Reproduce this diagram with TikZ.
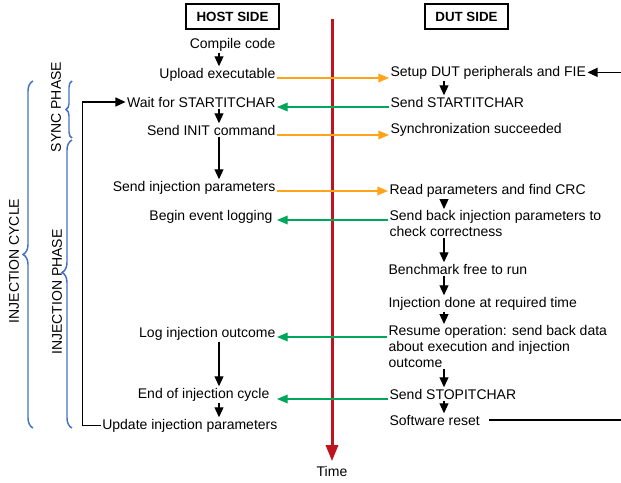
\documentclass[tikz,border=0pt]{standalone}
\usepackage{fontspec}
\setmainfont{Liberation Sans}
\usepackage{tikz}
\usetikzlibrary{arrows.meta,calc,decorations.pathreplacing}
\definecolor{txorange}{RGB}{255,163,26}
\definecolor{rxgreen}{RGB}{0,166,90}
\definecolor{timered}{RGB}{190,20,30}
\definecolor{brcblue}{RGB}{68,114,196}
\tikzset{
  sidebox/.style={draw, line width=1.5pt, font=\bfseries, minimum height=18.75pt, inner sep=2pt},
  host/.style={anchor=base east, inner sep=1pt},
  dut/.style={anchor=base west, inner sep=1pt},
  dutpar/.style={anchor=north west, inner sep=1pt, align=left},
  flow/.style={-{Triangle[length=7.5pt,width=6.75pt]}, line width=0.9pt},
  tx/.style={-{Triangle[length=8pt,width=6.5pt]}, draw=txorange, line width=1pt},
  rx/.style={-{Triangle[length=8pt,width=6.5pt]}, draw=rxgreen, line width=1pt},
  timeline/.style={-{Triangle[length=12pt,width=9pt]}, draw=timered, line width=2.25pt},
  brc/.style={decorate, decoration={brace, amplitude=#1}, draw=brcblue, line width=1.1pt},
  brc/.default=7.5pt,
  phase/.style={rotate=90, inner sep=1pt}
}
\begin{document}
\begin{tikzpicture}[x=0.75pt,y=-0.75pt,font=\fontsize{10.5}{12}\selectfont]
    \useasboundingbox (0,0) rectangle (621,482);
    \coordinate (hostx) at (219,0);
    \coordinate (dutx) at (444,0);
    \coordinate (ttop) at (332,19);
    \coordinate (edge) at (621,0);

    \node (hostside) [sidebox,minimum width=69.75pt] at (232.5,16.5) {HOST SIDE};
    \node (dutside) [sidebox,minimum width=62.25pt] at (466.5,16.5) {DUT SIDE};

    \node (compile) [host] at (277,48) {Compile code};
    \node (upload) [host] at (277,78) {Upload executable};
    \node (wait) [host] at (277,107) {Wait for STARTITCHAR};
    \node (init) [host] at (277,135) {Send INIT command};
    \node (sendpar) [host] at (277,191) {Send injection parameters};
    \node (logbegin) [host] at (274,220) {Begin event logging};
    \node (logout) [host] at (277,337) {Log injection outcome};
    \node (endcyc) [host] at (271,398) {End of injection cycle};
    \node (update) [host] at (279,429) {Update injection parameters};

    \node (setup) [dut] at (389,76) {Setup DUT peripherals and FIE};
    \node (sendstart) [dut] at (389,107) {Send STARTITCHAR};
    \node (syncok) [dut] at (389,133) {Synchronization succeeded};
    \node (readpar) [dut] at (388,194) {Read parameters and find CRC};
    \node (sendback) [dutpar] at (388,209) {Send back injection parameters to\\check correctness};
    \node (bench) [dut] at (387,274) {Benchmark free to run};
    \node (injdone) [dut] at (387,307) {Injection done at required time};
    \node (resume) [dutpar] at (387,324) {Resume operation: send back data\\about execution and injection\\outcome};
    \node (sendstop) [dut] at (388,399) {Send STOPITCHAR};
    \node (reset) [dut] at (388,425) {Software reset};

    \node (time) at (332,471) {Time};
    \draw [timeline] (ttop) -- (time.north);

    \path (compile.south -| hostx) edge [flow] (upload.north -| hostx);
    \path (wait.south -| hostx) edge [flow] (init.north -| hostx);
    \path (init.south -| hostx) edge [flow] (sendpar.north -| hostx);
    \path (logout.south -| hostx) edge [flow] (endcyc.north -| hostx);
    \path (endcyc.south -| hostx) edge [flow] (update.north -| hostx);
    \draw [flow] (update.west) -- ++(-18,0) |- (wait.west);

    \path (setup.south -| dutx) edge [flow] (sendstart.north -| dutx);
    \path (readpar.south -| dutx) edge [flow] (sendback.north -| dutx);
    \path (sendback.south -| dutx) edge [flow] (bench.north -| dutx);
    \path (bench.south -| dutx) edge [flow] (injdone.north -| dutx);
    \path (injdone.south -| dutx) edge [flow] (resume.north -| dutx);
    \path (resume.south -| dutx) edge [flow] (sendstop.north -| dutx);
    \path (sendstop.south -| dutx) edge [flow] (reset.north -| dutx);
    \draw [line width=0.9pt] ([xshift=6pt]reset.east) -- (reset.east -| edge);
    \draw [flow] (setup.east -| edge) -- (setup.east);

    \path (upload.base east) edge [tx] (upload.base east -| setup.west);
    \path (init.base east) edge [tx] (init.base east -| syncok.west);
    \path (sendpar.base east) edge [tx] (sendpar.base east -| readpar.west);

    \path (sendstart.base west) edge [rx] (sendstart.base west -| wait.east);
    \path (logbegin.base -| sendback.west) edge [rx] (logbegin.base -| wait.east);
    \path (logout.base -| resume.west) edge [rx] (logout.base -| wait.east);
    \path (sendstop.base west) edge [rx] (sendstop.base west -| wait.east);

    \draw [brc] (33,428) -- (33,81);
    \draw [brc=4.5pt] (72,138) -- (72,81);
    \draw [brc,decoration={aspect=0.54}] (72,428) -- (72,140);
    \node (cycle) [phase] at (14,261) {INJECTION CYCLE};
    \node (sync) [phase] at (56,107) {SYNC PHASE};
    \node (injphase) [phase] at (57,292) {INJECTION PHASE};
\end{tikzpicture}
\end{document}
